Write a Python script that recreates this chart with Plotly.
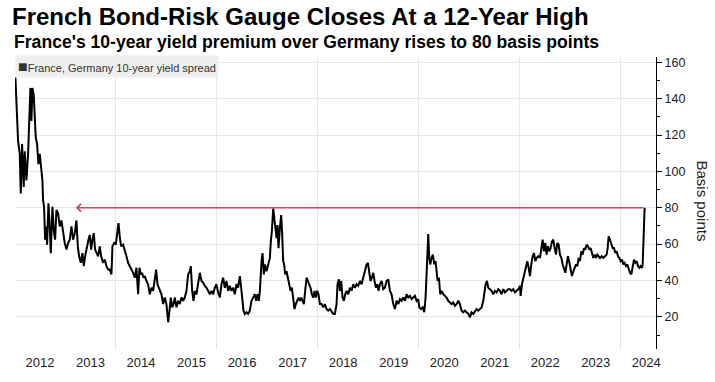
import plotly.graph_objects as go

# Decimal-year dates
dates_dec = [
    2012.013, 2012.033, 2012.046, 2012.066, 2012.099, 2012.119, 2012.145, 2012.178, 2012.198, 2012.231,
    2012.264, 2012.284, 2012.310, 2012.330, 2012.350, 2012.376, 2012.396, 2012.416, 2012.442, 2012.469,
    2012.495, 2012.528, 2012.548, 2012.561, 2012.581, 2012.601, 2012.620, 2012.640, 2012.667, 2012.693,
    2012.713, 2012.746, 2012.772, 2012.799, 2012.825, 2012.858, 2012.891, 2012.924, 2012.957, 2012.990,
    2013.023, 2013.056, 2013.089, 2013.122, 2013.155, 2013.188, 2013.221, 2013.248, 2013.274, 2013.307,
    2013.340, 2013.366, 2013.393, 2013.426, 2013.459, 2013.485, 2013.512, 2013.538, 2013.564, 2013.591,
    2013.617, 2013.650, 2013.683, 2013.710, 2013.749, 2013.782, 2013.815, 2013.848, 2013.881, 2013.914,
    2013.934, 2013.967, 2014.000, 2014.026, 2014.053, 2014.079, 2014.106, 2014.145, 2014.178, 2014.211,
    2014.244, 2014.277, 2014.310, 2014.343,
    2014.376, 2014.409, 2014.442, 2014.469, 2014.495, 2014.521, 2014.548, 2014.574, 2014.607, 2014.640,
    2014.673, 2014.706, 2014.739, 2014.772, 2014.799, 2014.825, 2014.851, 2014.878, 2014.904, 2014.937,
    2014.970, 2015.003, 2015.036, 2015.063, 2015.089, 2015.116, 2015.142, 2015.168, 2015.201, 2015.234,
    2015.267, 2015.300, 2015.333, 2015.366, 2015.399, 2015.432, 2015.465, 2015.485, 2015.512, 2015.538,
    2015.564, 2015.597, 2015.630, 2015.663, 2015.696, 2015.729, 2015.762, 2015.795, 2015.828, 2015.861,
    2015.894, 2015.927, 2015.960, 2015.993, 2016.026, 2016.059, 2016.092, 2016.125, 2016.158, 2016.191,
    2016.224, 2016.257, 2016.290, 2016.323, 2016.356, 2016.389, 2016.422, 2016.455, 2016.475, 2016.502,
    2016.528, 2016.554, 2016.587, 2016.620, 2016.653, 2016.686, 2016.719, 2016.752, 2016.779, 2016.805,
    2016.832,
    2016.852, 2016.885, 2016.904, 2016.931, 2016.951, 2016.984, 2017.017, 2017.050, 2017.069, 2017.089,
    2017.116, 2017.135, 2017.155, 2017.182, 2017.201, 2017.221, 2017.248, 2017.274, 2017.294, 2017.314,
    2017.333, 2017.353, 2017.380, 2017.406, 2017.432, 2017.459, 2017.485, 2017.512, 2017.538, 2017.564,
    2017.591, 2017.617, 2017.644, 2017.670, 2017.696, 2017.723, 2017.749, 2017.776, 2017.802, 2017.828,
    2017.855, 2017.881, 2017.908, 2017.934, 2017.960, 2017.987, 2018.013, 2018.040, 2018.073, 2018.106,
    2018.139, 2018.172, 2018.205, 2018.238, 2018.271, 2018.304, 2018.337, 2018.370, 2018.389, 2018.416,
    2018.436, 2018.462, 2018.488, 2018.515, 2018.541, 2018.568, 2018.601, 2018.634, 2018.667, 2018.700,
    2018.733, 2018.766, 2018.799, 2018.832, 2018.865, 2018.898, 2018.931, 2018.964, 2018.990, 2019.017,
    2019.043, 2019.069, 2019.096, 2019.122, 2019.149, 2019.175, 2019.201, 2019.228, 2019.261, 2019.294,
    2019.327, 2019.360, 2019.393, 2019.426, 2019.459, 2019.492, 2019.525, 2019.558, 2019.591, 2019.624,
    2019.657, 2019.690, 2019.723, 2019.756, 2019.789, 2019.822, 2019.855, 2019.888, 2019.921, 2019.954,
    2019.987, 2020.007, 2020.040, 2020.073, 2020.106, 2020.132, 2020.152, 2020.172, 2020.185, 2020.205,
    2020.224, 2020.251, 2020.277, 2020.304, 2020.330, 2020.350, 2020.370, 2020.396, 2020.422, 2020.449,
    2020.482, 2020.515, 2020.548, 2020.581, 2020.614, 2020.647, 2020.680, 2020.713, 2020.746, 2020.779,
    2020.812, 2020.845, 2020.878, 2020.911, 2020.944, 2020.977, 2021.010, 2021.043, 2021.076, 2021.109,
    2021.142, 2021.175, 2021.208, 2021.241, 2021.274, 2021.294, 2021.320, 2021.347, 2021.373, 2021.406,
    2021.439, 2021.472, 2021.505, 2021.538, 2021.571, 2021.604, 2021.637, 2021.670, 2021.703, 2021.736,
    2021.769,
    2021.802, 2021.835, 2021.868, 2021.901, 2021.934, 2021.967, 2022.000, 2022.013, 2022.040, 2022.066,
    2022.092, 2022.119, 2022.145, 2022.172, 2022.198, 2022.224, 2022.251, 2022.277, 2022.304, 2022.330,
    2022.363, 2022.396, 2022.429, 2022.449, 2022.475, 2022.502, 2022.528, 2022.555, 2022.581, 2022.607,
    2022.634, 2022.660, 2022.687, 2022.713, 2022.739, 2022.766, 2022.792, 2022.819, 2022.845, 2022.871,
    2022.898, 2022.924, 2022.951, 2022.977, 2023.003, 2023.030, 2023.056, 2023.083, 2023.109, 2023.135,
    2023.162, 2023.188, 2023.215, 2023.241, 2023.267, 2023.294, 2023.320, 2023.347, 2023.373, 2023.399,
    2023.426, 2023.452, 2023.479, 2023.505, 2023.531, 2023.558, 2023.584, 2023.617, 2023.650, 2023.683,
    2023.716, 2023.736, 2023.756, 2023.782, 2023.809, 2023.835, 2023.861, 2023.888, 2023.914, 2023.941,
    2023.967, 2023.993, 2024.020, 2024.046, 2024.073, 2024.099, 2024.125, 2024.152, 2024.178, 2024.205,
    2024.231, 2024.257, 2024.284, 2024.310, 2024.337, 2024.363, 2024.389, 2024.416, 2024.429, 2024.442,
    2024.455, 2024.468,
]

# France-Germany 10-year yield spread, basis points
spread_bp = [
    151.7, 136.8, 126.0, 116.8, 109.6, 87.8, 115.0, 91.4, 111.0, 95.0,
    109.6, 127.7, 145.9, 127.7, 145.9, 142.0, 131.0, 118.6, 115.0, 104.0,
    109.6, 102.0, 95.0, 84.0, 80.5, 62.4, 69.7, 59.7, 82.4, 69.7,
    55.0, 80.5, 67.8, 62.4, 78.7, 77.0, 69.7, 73.0, 66.0, 60.6,
    57.0, 60.6, 62.4, 69.7, 62.4, 66.0, 73.0, 58.8, 53.3, 49.7,
    55.0, 47.9, 53.3, 58.8, 62.4, 65.0, 57.0, 62.4, 66.0, 57.0,
    55.0, 53.3, 58.8, 53.3, 49.7, 51.5, 47.9, 46.0, 46.0, 43.3,
    58.8, 60.6, 59.7, 66.0, 71.5, 64.0, 58.8, 59.7, 57.0, 53.3,
    49.7, 47.9, 46.0, 44.2,
    41.5, 47.0, 32.4, 47.0, 43.3, 44.2, 41.5, 42.4, 39.7, 37.9,
    32.4, 36.0, 34.3, 39.7, 46.0, 37.9, 36.0, 34.3, 32.4, 27.0,
    30.6, 27.0, 17.0, 23.4, 30.6, 25.2, 27.0, 30.6, 25.2, 28.8,
    27.0, 30.6, 28.8, 30.6, 34.3, 43.3, 45.1, 47.9, 34.3, 28.8,
    34.3, 32.4, 37.9, 44.2, 39.7, 38.8, 37.0, 36.0, 34.3, 32.4,
    34.3, 32.4, 36.0, 37.9, 33.4, 30.6, 37.9, 41.5, 36.0, 39.7,
    34.3, 37.0, 34.3, 36.0, 32.4, 37.9, 36.0, 42.4, 37.9, 30.6,
    23.4, 21.6, 22.5, 21.6, 23.4, 28.8, 30.6, 32.4, 28.8, 32.4,
    28.8,
    34.3, 50.6, 55.1, 43.3, 48.8, 45.1, 48.8, 52.4, 61.5, 66.9,
    79.6, 74.2, 66.9, 63.3, 70.5, 57.8, 68.7, 76.0, 65.1, 50.6,
    48.8, 43.3, 45.1, 41.5, 37.9, 34.3, 36.0, 30.6, 24.3, 27.0,
    28.8, 30.6, 28.8, 30.6, 28.8, 27.0, 34.3, 41.5, 39.7, 37.9,
    36.0, 32.4, 30.6, 34.3, 30.6, 34.3, 32.4, 27.0, 27.0, 25.2,
    27.0, 24.3, 23.4, 24.3, 22.5, 21.6, 21.6, 27.0, 37.9, 40.6,
    34.3, 39.7, 30.6, 28.8, 32.4, 34.3, 32.4, 36.0, 34.3, 37.9,
    36.0, 37.9, 37.0, 39.7, 37.9, 41.5, 45.1, 48.8, 49.7, 43.3,
    39.7, 41.5, 44.2, 39.7, 36.0, 37.9, 34.3, 37.9, 39.7, 35.2,
    36.0, 39.7, 40.6, 34.3, 32.4, 27.0, 24.3, 28.8, 27.0, 29.7,
    28.8, 30.6, 28.8, 32.4, 30.6, 31.5, 29.7, 30.6, 31.5, 28.8,
    29.7, 25.2, 24.3, 25.2, 22.5, 30.6, 45.1, 52.4, 65.5, 52.4,
    48.8, 52.4, 54.2, 48.8, 50.6, 45.1, 39.7, 41.5, 32.4, 34.3,
    32.4, 31.5, 30.6, 28.8, 27.9, 27.0, 27.9, 26.1, 27.0, 28.8,
    27.0, 23.4, 22.5, 23.4, 22.5, 21.6, 19.7, 22.5, 21.6, 23.4,
    24.3, 23.4, 24.3, 25.2, 28.8, 34.3, 37.9, 39.7, 36.0, 35.2,
    34.3, 32.4, 34.3, 33.4, 35.2, 34.3, 32.4, 35.2, 33.4, 34.3,
    35.2,
    35.2, 34.3, 35.2, 33.4, 34.3, 35.2, 37.0, 31.5, 37.9, 41.5,
    45.1, 48.8, 50.6, 46.9, 42.4, 48.8, 53.3, 55.1, 50.6, 52.4,
    53.3, 52.4, 57.8, 62.4, 56.0, 60.6, 54.2, 58.8, 56.0, 57.8,
    61.5, 62.4, 57.8, 54.2, 60.6, 59.7, 54.2, 52.4, 48.8, 46.9,
    44.2, 48.8, 53.3, 50.0, 44.9, 42.4, 44.9, 46.9, 48.8, 47.9,
    52.4, 50.6, 56.0, 54.2, 57.8, 56.9, 59.7, 58.8, 56.9, 57.8,
    54.2, 52.4, 54.2, 52.4, 54.2, 53.3, 52.4, 53.3, 52.4, 53.3,
    54.2, 57.8, 64.2, 62.4, 59.7, 57.8, 57.8, 55.1, 56.0, 53.3,
    52.4, 50.6, 51.5, 48.8, 49.7, 47.9, 48.8, 46.0, 44.2, 43.3,
    47.9, 51.5, 49.7, 50.6, 47.9, 46.9, 47.9, 46.9, 48.8, 63.3,
    78.6, 80.0,
]

year_labels = [str(y) for y in range(2012, 2025)]
year_mid = [y + 0.5 for y in range(2012, 2025)]
high_level = 80          # the 12-year-high level marked by the arrow
arrow_tip_year = 2013.21  # where the arrow points back to

SERIES_NAME = "France, Germany 10-year yield spread"
RED = "#dc3c5a"
NARROW = "Liberation Sans Narrow, Liberation Sans, Arial, sans-serif"

fig = go.Figure()
fig.add_trace(go.Scatter(
    x=dates_dec, y=spread_bp, mode="lines",
    line=dict(color="#000000", width=2),
    name=SERIES_NAME, showlegend=False,
))

fig.add_annotation(
    x=arrow_tip_year, y=high_level, ax=dates_dec[-1], ay=high_level,
    xref="x", yref="y", axref="x", ayref="y",
    text="", showarrow=True, arrowhead=4, arrowsize=1, arrowwidth=1.5,
    arrowcolor=RED, standoff=0, startstandoff=0,
)

# legend box
fig.add_annotation(
    x=0, y=1.0068, xref="paper", yref="paper", xanchor="left", yanchor="top",
    text="<span style='font-size:16px'>■</span>" + SERIES_NAME, showarrow=False,
    font=dict(family=NARROW, size=11, color="#333333"),
    bgcolor="#efefef", borderpad=2,
)

# subtitle
fig.add_annotation(
    x=-0.005, y=1.052, xref="paper", yref="paper", xanchor="left", yanchor="middle",
    text="<b>France's 10-year yield premium over Germany rises to 80 basis points</b>",
    showarrow=False, font=dict(family=NARROW, size=17.6, color="#000000"),
)

# right axis title (reads top to bottom)
fig.add_annotation(
    x=1.072, y=0.508, xref="paper", yref="paper", xanchor="center", yanchor="middle",
    text="Basis points", textangle=90, showarrow=False,
    font=dict(family="Liberation Sans, Arial, sans-serif", size=15, color="#222222"),
)

fig.update_layout(
    width=715, height=382,
    margin=dict(l=15, r=59, t=57, b=30),
    paper_bgcolor="#ffffff", plot_bgcolor="#ffffff",
    title=dict(
        text="<b>French Bond-Risk Gauge Closes At a 12-Year High</b>",
        x=12 / 715, xref="container", xanchor="left",
        y=1 - 8 / 382, yref="container", yanchor="top",
        font=dict(family=NARROW, size=24, color="#000000"),
    ),
    xaxis=dict(
        range=[2012.005, 2024.693],
        tickmode="array", tickvals=year_mid, ticktext=year_labels,
        showgrid=False, zeroline=False, showline=False, ticks="",
        tickfont=dict(family=NARROW, size=13, color="#222222"),
        ticklabelstandoff=4,
        minor=dict(tick0=2012, dtick=2, showgrid=True, gridcolor="#e6e6e6", gridwidth=1, ticks=""),
    ),
    yaxis=dict(
        side="right", range=[2.3, 162.9],
        tickmode="linear", tick0=0, dtick=20,
        showgrid=True, gridcolor="#e6e6e6", gridwidth=1, zeroline=False,
        showline=True, linecolor="#000000", linewidth=1,
        ticks="outside", ticklen=5, tickcolor="#000000", tickwidth=1,
        tickfont=dict(family=NARROW, size=12.5, color="#222222"),
        minor=dict(dtick=10, ticks="outside", ticklen=3, tickcolor="#000000", showgrid=False),
    ),
    showlegend=False,
)

fig.write_html("out.html", config={"displayModeBar": False},
               post_script="document.body.style.margin='0';")
